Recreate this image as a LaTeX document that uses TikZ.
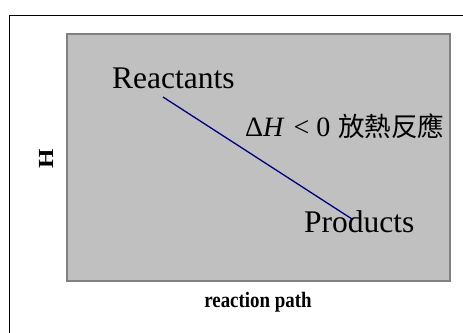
\documentclass[tikz,border=0pt]{standalone}
\usepackage{fontspec}
\setmainfont{Liberation Serif}
\newfontfamily\cjk{Noto Sans CJK TC}
\usetikzlibrary{calc}
\definecolor{panelGray}{HTML}{C0C0C0}
\definecolor{edgeGray}{HTML}{808080}
\definecolor{pathNavy}{HTML}{000080}

\begin{document}
\begin{tikzpicture}[
  x=1pt, y=-1pt,
  panel/.style={draw=edgeGray, line width=1.5pt, fill=panelGray},
  big/.style={anchor=base west, inner sep=0pt, font=\fontsize{31.5}{36}\selectfont},
  axis/.style={inner sep=0pt, font=\bfseries\fontsize{22}{26}\selectfont, xscale=0.86},
  path/.style={draw=pathNavy, line width=1.3pt},
]
\useasboundingbox (0,0) rectangle (463,332);

% outer frame, cut off at right and bottom
\draw[line width=0.8pt] (9.5,340) -- (9.5,15) -- (470,15);

\node[panel, minimum width=383pt, minimum height=247pt, inner sep=0pt] (panel) at (258.5,157.5) {};

\node[big] (reac) at (112,88)  {Reactants};
\node[big] (prod) at (304,232) {Products};
\node[anchor=base west, inner sep=0pt, font=\fontsize{28}{32}\selectfont] (dh) at (245,136)
  {Δ\textit{H}\hspace{9pt}<\hspace{7pt}0\hspace{8pt}{\cjk\fontsize{26.5}{30}\selectfont 放熱反應}};

\draw[path] ($(reac.base west)+(51,9)$) -- ($(prod.base west)+(48,-13)$);

\node[axis, rotate=90, font=\bfseries\fontsize{25}{28}\selectfont] (hlab) at (46,159) {H};
\node[axis, anchor=base] (xlab) at (258,307) {reaction path};
\end{tikzpicture}
\end{document}
